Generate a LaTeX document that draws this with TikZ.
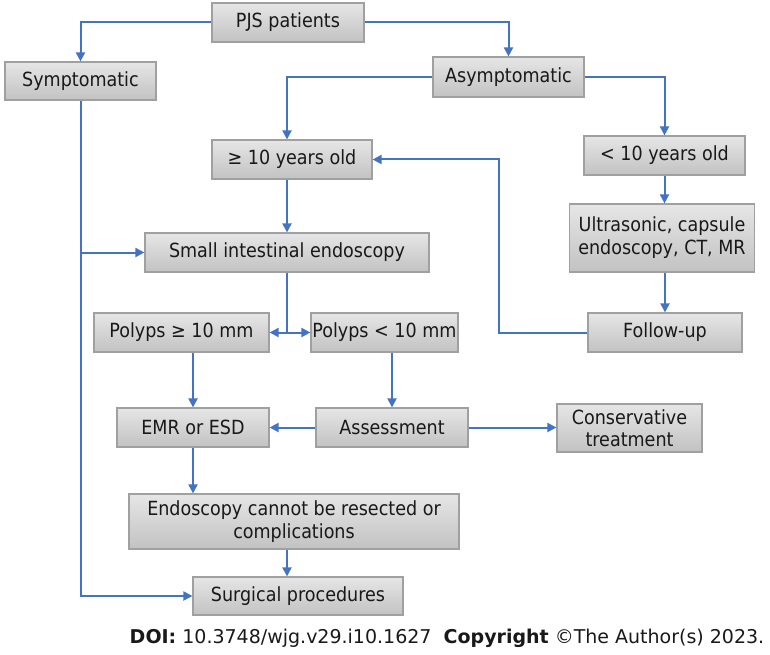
\documentclass[tikz,border=0pt]{standalone}
\usepackage{fontspec}
\setmainfont{DejaVu Sans Condensed}
\newfontfamily\doifont{DejaVu Sans}
\usetikzlibrary{positioning, arrows.meta, calc}

\definecolor{linkblue}{HTML}{4472C4}
\definecolor{boxline}{HTML}{A0A0A0}
\definecolor{boxtop}{HTML}{E6E6E6}
\definecolor{boxbottom}{HTML}{C2C2C2}

\begin{document}
\begin{tikzpicture}[
    x=1pt, y=-1pt,
    font=\fontsize{19.5}{23}\selectfont,
    % Styles
    stepbox/.style={
        draw=boxline,
        line width=1.2pt,
        rectangle,
        top color=boxtop,
        bottom color=boxbottom,
        text=black!90,
        inner sep=0pt,
        minimum height=39pt,
        align=center
    },
    arrow/.style={-{Triangle[width=9pt,length=9pt]}, linkblue, line width=2pt},
    link/.style={linkblue, line width=2pt}
]
    \useasboundingbox (0,0) rectangle (770,655);

    % --- TOP LEVEL ---
    \node[stepbox, minimum width=152pt] (pjs) at (288,22.5) {PJS patients};
    \node[stepbox, minimum width=151pt, minimum height=38pt] (sym) at (80.5,81) {Symptomatic};
    \node[stepbox, minimum width=151pt, minimum height=40pt] (asym) at (508.5,77) {Asymptomatic};

    % --- AGE GROUPS ---
    \node[stepbox, minimum width=160pt] (ge10) at (292,159.5) {≥ 10 years old};
    \node[stepbox, minimum width=161pt] (lt10) at (664.5,155.5) {< 10 years old};
    \node[stepbox, minimum width=185pt, minimum height=68pt] (ultra) at (662,238)
        {Ultrasonic, capsule\\endoscopy, CT, MR};
    \node[stepbox, minimum width=154pt] (fol) at (665,332.5) {Follow-up};

    % --- ENDOSCOPY BRANCH ---
    \node[stepbox, minimum width=284pt] (small) at (287,252.5) {Small intestinal endoscopy};
    \node[stepbox, minimum width=175pt] (pge) at (181.5,332.5) {Polyps ≥ 10 mm};
    \node[stepbox, minimum width=147pt] (plt) at (384.5,332.5) {Polyps < 10 mm};
    \node[stepbox, minimum width=152pt] (emr) at (193,427.5) {EMR or ESD};
    \node[stepbox, minimum width=152pt] (ass) at (392,427.5) {Assessment};
    \node[stepbox, minimum width=145pt, minimum height=48pt,
          font=\fontsize{19.5}{22}\selectfont] (cons) at (629.5,428) {Conservative\\treatment};
    \node[stepbox, minimum width=330pt, minimum height=55pt] (endo) at (294,521.5)
        {Endoscopy cannot be resected or\\complications};
    \node[stepbox, minimum width=210pt, minimum height=38pt] (surg) at (298,596) {Surgical procedures};

    % --- Credit line ---
    \node[font=\doifont\fontsize{19}{22}\selectfont, text=black!90] (doi) at (447,638)
        {\textbf{DOI:} 10.3748/wjg.v29.i10.1627\ \ \textbf{Copyright} \textcopyright The Author(s) 2023.};

    % --- ARROWS ---
    \draw[arrow] (pjs.west) -| (sym.north);
    \draw[arrow] (pjs.east) -| (asym.north);
    \draw[arrow] (asym.west) -| (ge10.north -| small.north);
    \draw[arrow] (asym.east) -| (lt10.north);
    \draw[arrow] (ge10.south -| small.north) -- (small.north);
    \draw[arrow] (lt10.south) -- (lt10.south |- ultra.north);
    \draw[arrow] (ultra.south -| fol.north) -- (fol.north);

    % Follow-up loops back
    \coordinate (back) at (499,332.5);
    \draw[arrow] (fol.west) -- (back) |- (ge10.east);

    % Symptomatic path
    \draw[arrow] (sym.south) |- (surg.west);
    \draw[arrow] (sym.south |- small.west) -- (small.west);

    % Split by polyp size
    \coordinate (split) at (small.south |- pge.east);
    \draw[link] (small.south) -- (split);
    \draw[arrow] (split) -- (pge.east);
    \draw[arrow] (split) -- (plt.west);

    \draw[arrow] (pge.south -| emr.north) -- (emr.north);
    \draw[arrow] (plt.south -| ass.north) -- (ass.north);
    \draw[arrow] (ass.west) -- (emr.east);
    \draw[arrow] (ass.east) -- (ass.east -| cons.west);
    \draw[arrow] (emr.south) -- (emr.south |- endo.north);
    \draw[arrow] ([xshift=-7pt]endo.south) -- ([xshift=-7pt]endo.south |- surg.north);

\end{tikzpicture}
\end{document}
